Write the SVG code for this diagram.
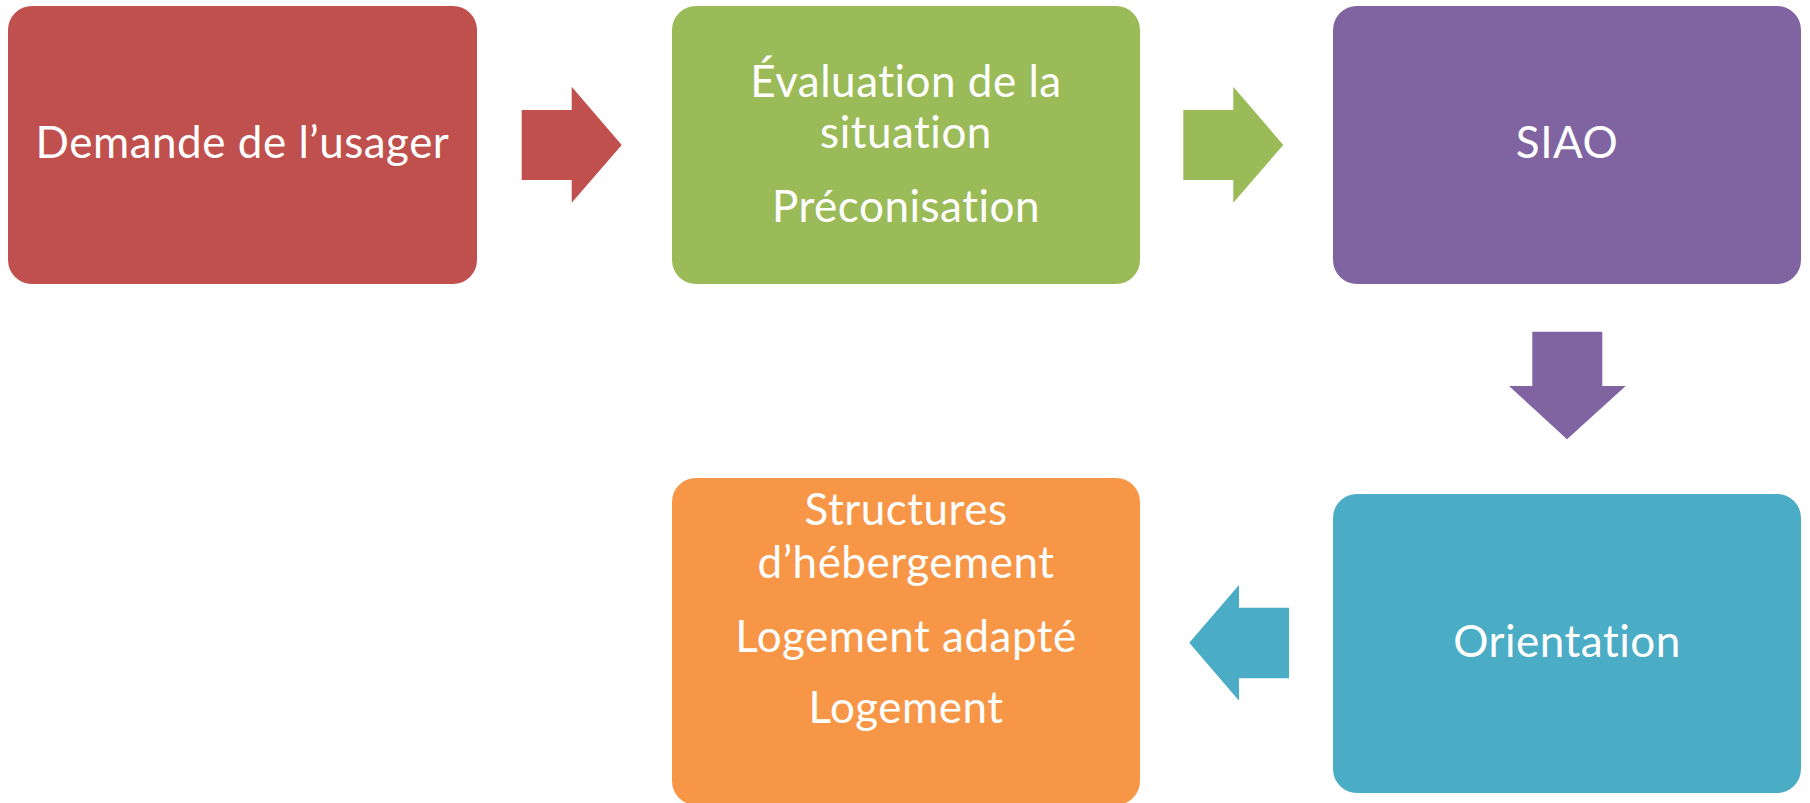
<svg xmlns="http://www.w3.org/2000/svg" width="1810" height="803" viewBox="0 0 1810 803">
  <style>
    .lbl { font-family: Lato, "Open Sans", "Liberation Sans", sans-serif; font-size: 44px; letter-spacing: 0.5px; font-variant-ligatures: none; font-feature-settings: "liga" 0, "clig" 0; fill: #ffffff; text-anchor: middle; }
    .red { fill: #C0504D; }
    .green { fill: #9BBB59; }
    .purple { fill: #8064A2; }
    .teal { fill: #4BACC6; }
    .orange { fill: #F79646; }
  </style>
  <rect width="1810" height="803" fill="#ffffff"/>
  <g id="connectors">
    <polygon class="red" points="521.7,110 571.7,110 571.7,86.7 621.7,145 571.7,202.7 571.7,180 521.7,180"/>
    <polygon class="green" points="1183.3,110 1233.3,110 1233.3,86.7 1283.3,145 1233.3,202.7 1233.3,180 1183.3,180"/>
    <polygon class="purple" points="1532.3,331.7 1602.3,331.7 1602.3,386 1625.7,386 1567,439.3 1509,386 1532.3,386"/>
    <polygon class="teal" points="1289,607.7 1239,607.7 1239,585 1189.3,642.7 1239,700.7 1239,678.3 1289,678.3"/>
  </g>
  <g id="node-demande">
    <rect class="red" x="8" y="6" width="469" height="278" rx="24" ry="24"/>
    <text class="lbl" x="242.5" y="158">Demande de l’usager</text>
  </g>
  <g id="node-evaluation">
    <rect class="green" x="672" y="6" width="468" height="278" rx="24" ry="24"/>
    <text class="lbl" x="906" y="97">Évaluation de la</text>
    <text class="lbl" x="906" y="148">situation</text>
    <text class="lbl" x="906" y="222">Préconisation</text>
  </g>
  <g id="node-siao">
    <rect class="purple" x="1333" y="6" width="468" height="278" rx="24" ry="24"/>
    <text class="lbl" x="1567" y="158">SIAO</text>
  </g>
  <g id="node-orientation">
    <rect class="teal" x="1333" y="494" width="468" height="299" rx="24" ry="24"/>
    <text class="lbl" x="1567" y="657">Orientation</text>
  </g>
  <g id="node-hebergement">
    <rect class="orange" x="672" y="478" width="468" height="327" rx="24" ry="24"/>
    <text class="lbl" x="906" y="525">Structures</text>
    <text class="lbl" x="906" y="578">d’hébergement</text>
    <text class="lbl" x="906" y="652">Logement adapté</text>
    <text class="lbl" x="906" y="723">Logement</text>
  </g>
</svg>
